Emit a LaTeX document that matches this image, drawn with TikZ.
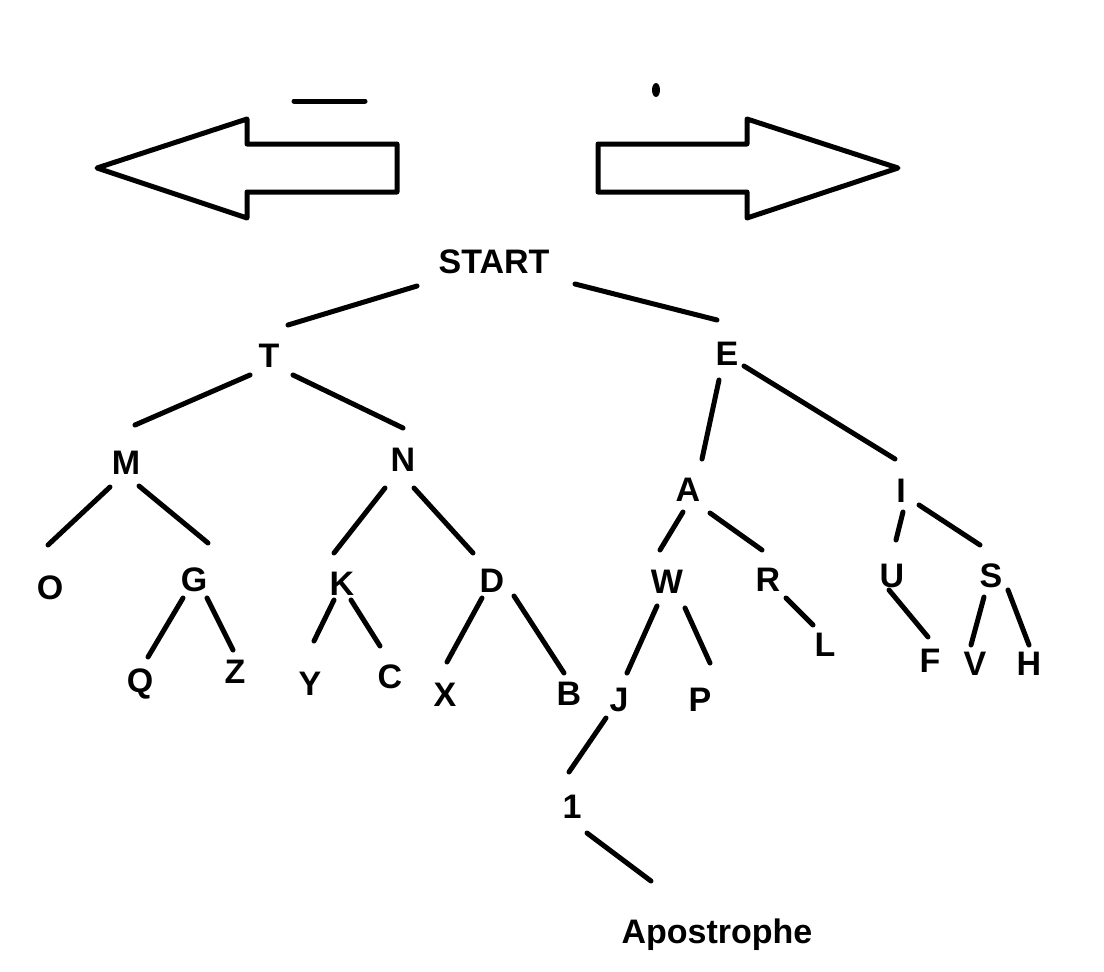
\documentclass[tikz,border=0pt]{standalone}
\usepackage{fontspec}
\setmainfont{Liberation Sans}
\begin{document}
\begin{tikzpicture}[x=1pt,y=-1pt,
  lbl/.style={font=\fontsize{34}{38}\selectfont\bfseries, inner sep=0pt, text height=24pt, text depth=0pt},
  edge/.style={line width=5pt, line cap=round},
  arrowshape/.style={line width=5pt, line join=round}]
\useasboundingbox (0,0) rectangle (1104,972);
% arrows
\draw[arrowshape] (97,168) -- (247,119) -- (247,144) -- (397,144) -- (397,192) -- (247,192) -- (247,218) -- cycle;
\draw[arrowshape] (898,168) -- (747,119) -- (747,144) -- (598,144) -- (598,192) -- (747,192) -- (747,218) -- cycle;
\draw[edge] (294,101) -- (365,101);
\fill (656,90) ellipse [x radius=4, y radius=7];
% nodes
\node[lbl] (START) at (494,261) {START};
\node[lbl] (T) at (269,355) {T};
\node[lbl] (E) at (727,353) {E};
\node[lbl] (M) at (126,462) {M};
\node[lbl] (N) at (403,459) {N};
\node[lbl] (A) at (688,489) {A};
\node[lbl] (I) at (901,490) {I};
\node[lbl] (O) at (50,587) {O};
\node[lbl] (G) at (194,579) {G};
\node[lbl] (K) at (342,583) {K};
\node[lbl] (D) at (492,580) {D};
\node[lbl] (W) at (667,581) {W};
\node[lbl] (R) at (768,579) {R};
\node[lbl] (U) at (892,575) {U};
\node[lbl] (S) at (991,575) {S};
\node[lbl] (Q) at (140,680) {Q};
\node[lbl] (Z) at (235,671) {Z};
\node[lbl] (Y) at (310,683) {Y};
\node[lbl] (C) at (390,676) {C};
\node[lbl] (X) at (445,694) {X};
\node[lbl] (B) at (569,693) {B};
\node[lbl] (J) at (619,699) {J};
\node[lbl] (P) at (700,699) {P};
\node[lbl] (L) at (825,644) {L};
\node[lbl] (F) at (930,660) {F};
\node[lbl] (V) at (975,663) {V};
\node[lbl] (H) at (1029,663) {H};
\node[lbl] (one) at (572,806) {1};
\node[lbl] (apos) at (717,931) {Apostrophe};
% edges
\draw[edge] ([shift={(-77,25)}]START.center) -- ([shift={(19,-30)}]T.center);
\draw[edge] ([shift={(81,23)}]START.center) -- ([shift={(-10,-33)}]E.center);
\draw[edge] ([shift={(-19,20)}]T.center) -- ([shift={(9,-37)}]M.center);
\draw[edge] ([shift={(24,20)}]T.center) -- ([shift={(0,-31)}]N.center);
\draw[edge] ([shift={(-8,27)}]E.center) -- ([shift={(14,-30)}]A.center);
\draw[edge] ([shift={(17,13)}]E.center) -- ([shift={(-6,-31)}]I.center);
\draw[edge] ([shift={(-16,25)}]M.center) -- ([shift={(-2,-42)}]O.center);
\draw[edge] ([shift={(13,24)}]M.center) -- ([shift={(14,-36)}]G.center);
\draw[edge] ([shift={(-18,29)}]N.center) -- ([shift={(-8,-30)}]K.center);
\draw[edge] ([shift={(11,29)}]N.center) -- ([shift={(-19,-27)}]D.center);
\draw[edge] ([shift={(-5,23)}]A.center) -- ([shift={(-7,-31)}]W.center);
\draw[edge] ([shift={(22,24)}]A.center) -- ([shift={(-6,-29)}]R.center);
\draw[edge] ([shift={(2,22)}]I.center) -- ([shift={(4,-35)}]U.center);
\draw[edge] ([shift={(18,15)}]I.center) -- ([shift={(-11,-30)}]S.center);
\draw[edge] ([shift={(-11,19)}]G.center) -- ([shift={(8,-23)}]Q.center);
\draw[edge] ([shift={(13,19)}]G.center) -- ([shift={(-2,-21)}]Z.center);
\draw[edge] ([shift={(-8,17)}]K.center) -- ([shift={(4,-42)}]Y.center);
\draw[edge] ([shift={(9,17)}]K.center) -- ([shift={(-10,-30)}]C.center);
\draw[edge] ([shift={(-10,18)}]D.center) -- ([shift={(2,-32)}]X.center);
\draw[edge] ([shift={(22,16)}]D.center) -- ([shift={(-5,-20)}]B.center);
\draw[edge] ([shift={(-10,25)}]W.center) -- ([shift={(8,-26)}]J.center);
\draw[edge] ([shift={(18,27)}]W.center) -- ([shift={(10,-36)}]P.center);
\draw[edge] ([shift={(18,19)}]R.center) -- ([shift={(-12,-19)}]L.center);
\draw[edge] ([shift={(-3,15)}]U.center) -- ([shift={(-2,-23)}]F.center);
\draw[edge] ([shift={(-7,22)}]S.center) -- ([shift={(-4,-18)}]V.center);
\draw[edge] ([shift={(17,15)}]S.center) -- ([shift={(0,-18)}]H.center);
\draw[edge] ([shift={(-13,19)}]J.center) -- ([shift={(-3,-34)}]one.center);
\draw[edge] ([shift={(15,27)}]one.center) -- ([shift={(-66,-50)}]apos.center);
\end{tikzpicture}
\end{document}
